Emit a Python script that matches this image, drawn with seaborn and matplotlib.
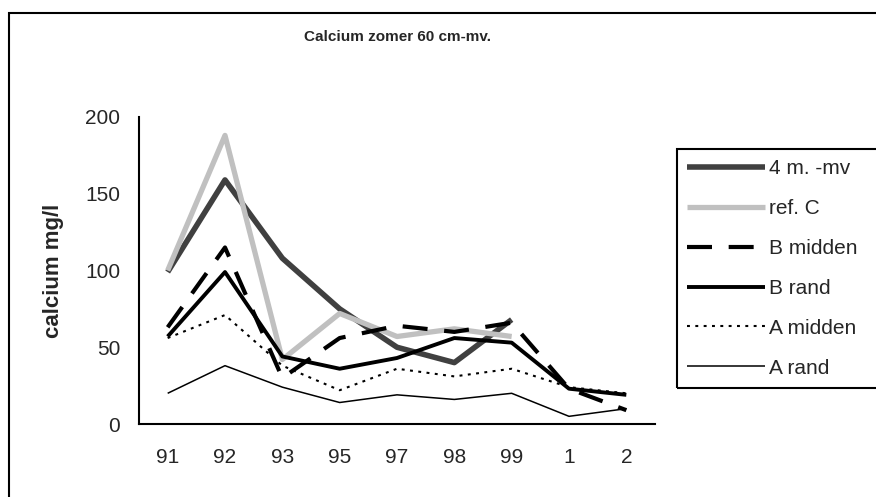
import numpy as np
import pandas as pd
import matplotlib
matplotlib.use("Agg")
import matplotlib.pyplot as plt
import seaborn as sns
from matplotlib.patches import Rectangle

# ---- data ----
years = ['91', '92', '93', '95', '97', '98', '99', '1', '2']
m4_mv = [99, 159, 108, 75, 50, 40, 68, np.nan, np.nan]
ref_c = [100, 188, 42, 72, 57, 62, 57, np.nan, np.nan]
b_midden = [63, 115, 30, 56, 64, 60, 66, 23, 9]
b_rand = [57, 99, 44, 36, 43, 56, 53, 23, 19]
a_midden = [56, 71, 38, 22, 36, 31, 36, 24, 20]
a_rand = [20, 38, 24, 14, 19, 16, 20, 5, 10]
series_names = ['4 m. -mv', 'ref. C', 'B midden', 'B rand', 'A midden', 'A rand']
series_vals = [m4_mv, ref_c, b_midden, b_rand, a_midden, a_rand]
y_ticks = [0, 50, 100, 150, 200]

rows = []
for name, vals in zip(series_names, series_vals):
    for i, v in enumerate(vals):
        rows.append({'series': name, 'pos': i, 'year': years[i], 'value': v})
df = pd.DataFrame(rows)

sns.set_style("white")
plt.rcParams['font.family'] = ['Liberation Sans', 'DejaVu Sans']

W, H = 876, 497
fig = plt.figure(figsize=(W / 100, H / 100), dpi=100)
ax = fig.add_axes([139 / W, 1 - 424 / H, (655 - 139) / W, (424 - 117) / H])

styles = {
    '4 m. -mv': dict(color='#404040', lw=4.0, dashes=None),
    'ref. C': dict(color='#c0c0c0', lw=3.8, dashes=None),
    'B midden': dict(color='black', lw=3.0, dashes=(6, 4)),
    'B rand': dict(color='black', lw=2.8, dashes=None),
    'A midden': dict(color='black', lw=1.5, dashes=(1.4, 2.6)),
    'A rand': dict(color='black', lw=1.1, dashes=None),
}

handles = []
for name in series_names:
    st = styles[name]
    sub = df[df['series'] == name].dropna()
    sns.lineplot(data=sub, x='pos', y='value', color=st['color'], linewidth=st['lw'],
                 ax=ax, sort=False, legend=False, solid_capstyle='butt')
    line = ax.lines[-1]
    if st['dashes'] is not None:
        line.set_dashes(st['dashes'])
        line.set_dash_capstyle('butt')
    line.set_label(name)
    handles.append(line)

ax.set_xlim(-0.5, len(years) - 0.5)
ax.set_ylim(0, 200)
ax.set_yticks(y_ticks)
ax.set_xticks(np.arange(-0.5, len(years), 1.0))
ax.set_xticklabels([])
ax.set_xticks(np.arange(len(years)), minor=True)
ax.set_xticklabels(years, minor=True)
ax.tick_params(axis='x', which='major', direction='out', length=6, width=1.5, color='black')
ax.tick_params(axis='x', which='minor', length=0, pad=17, labelsize=15)
ax.tick_params(axis='y', direction='out', length=6.5, width=1.5, color='black', pad=7, labelsize=15)
ax.set_xlabel('')
ax.set_ylabel('calcium mg/l', fontsize=16, fontweight='bold')
ax.yaxis.set_label_coords(-0.145, 0.5)

for s in ['top', 'right']:
    ax.spines[s].set_visible(False)
for s in ['left', 'bottom']:
    ax.spines[s].set_color('black')
    ax.spines[s].set_linewidth(1.5)
ax.grid(False)

fig.text(397 / W, 1 - 37 / H, 'Calcium zomer 60 cm-mv.', ha='center', va='center',
         fontsize=11, fontweight='bold')

leg = ax.legend(handles=handles, labels=series_names, loc='upper left',
                bbox_to_anchor=(677 / W, 1 - 149 / H), bbox_transform=fig.transFigure,
                frameon=False, borderaxespad=0,
                handlelength=3.7, handletextpad=0.2, labelspacing=1.0, fontsize=15,
                borderpad=0.5)

# legend box (extends past the right edge, as in the reference)
fig.add_artist(Rectangle((677 / W, 1 - 388 / H), 0.5, (388 - 149) / H,
                         transform=fig.transFigure, fill=False, edgecolor='black',
                         linewidth=1.5, clip_on=False))

# outer chart border
fig.add_artist(Rectangle((9 / W, -0.1), 1.2, 1 - 13 / H + 0.1, transform=fig.transFigure,
                         fill=False, edgecolor='black', linewidth=1.5, clip_on=False))

fig.savefig('out.png', dpi=100)
